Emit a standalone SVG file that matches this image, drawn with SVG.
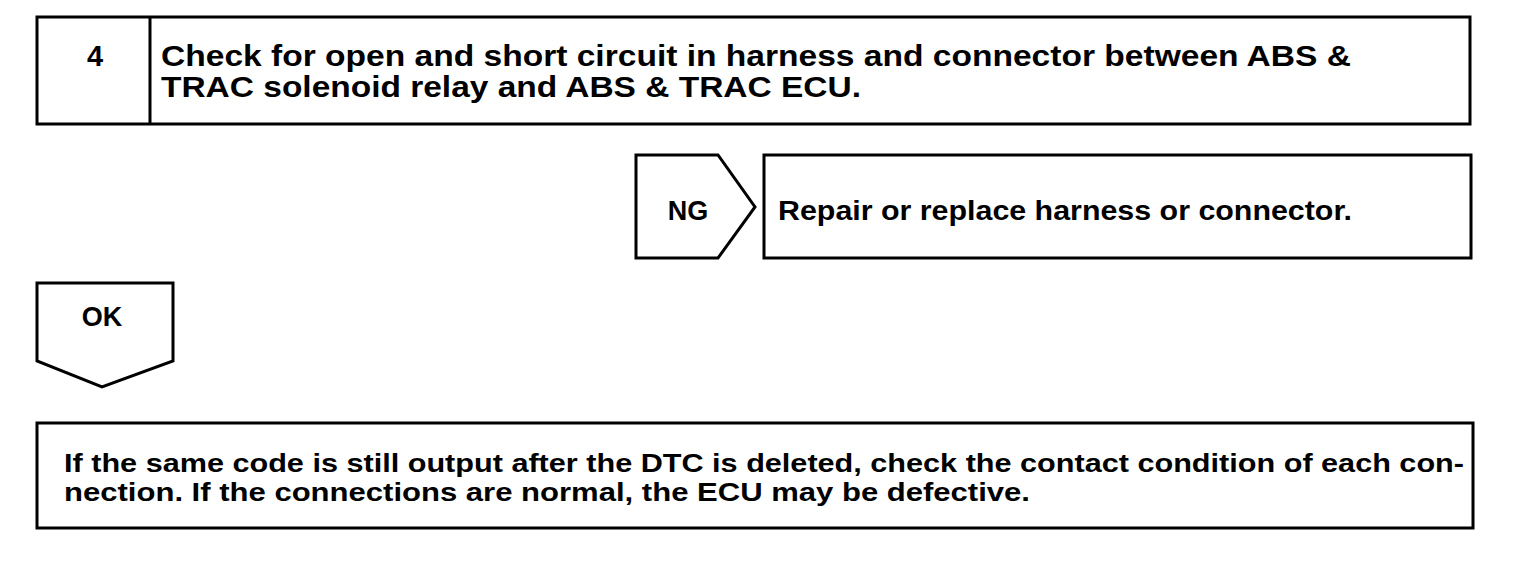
<svg xmlns="http://www.w3.org/2000/svg" width="1520" height="582" viewBox="0 0 1520 582">
<style>
.box{fill:#fff;stroke:#000;stroke-width:3}
.t{font-family:"Liberation Sans",Arial,sans-serif;font-weight:bold;fill:#000}
.big{font-size:29px}
.mid{font-size:27px}
.sm{font-size:26px}
</style>
<rect width="1520" height="582" fill="#fff"/>
<g id="step4">
<rect class="box" x="37" y="17" width="1433" height="107"/>
<line x1="150" y1="17" x2="150" y2="124" stroke="#000" stroke-width="3"/>
<text class="t big" x="95" y="66" text-anchor="middle">4</text>
<text class="t big" x="161" y="66" textLength="1190" lengthAdjust="spacingAndGlyphs">Check for open and short circuit in harness and connector between ABS &amp;</text>
<text class="t big" x="161" y="97" textLength="700" lengthAdjust="spacingAndGlyphs">TRAC solenoid relay and ABS &amp; TRAC ECU.</text>
</g>
<g id="ng">
<polygon class="box" points="636,155 718,155 755,207 718,258 636,258"/>
<text class="t mid" x="688" y="220" text-anchor="middle">NG</text>
</g>
<g id="repair">
<rect class="box" x="764" y="155" width="707" height="103"/>
<text class="t mid" x="778" y="220" textLength="574" lengthAdjust="spacingAndGlyphs">Repair or replace harness or connector.</text>
</g>
<g id="ok">
<polygon class="box" points="37,283 173,283 173,361 102,387 37,361"/>
<text class="t mid" x="102" y="326" text-anchor="middle">OK</text>
</g>
<g id="result">
<rect class="box" x="37" y="423" width="1436" height="105"/>
<text class="t sm" x="64" y="472" textLength="1400" lengthAdjust="spacingAndGlyphs">If the same code is still output after the DTC is deleted, check the contact condition of each con-</text>
<text class="t sm" x="64" y="501" textLength="966" lengthAdjust="spacingAndGlyphs">nection. If the connections are normal, the ECU may be defective.</text>
</g>
<g id="connectors"></g>
</svg>
